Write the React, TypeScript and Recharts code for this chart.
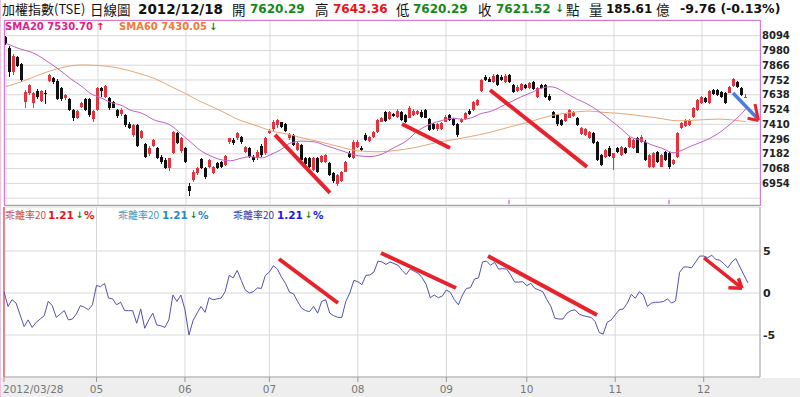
import React from "react";
import { ComposedChart, Bar, Line, XAxis, YAxis, CartesianGrid, ReferenceLine } from "recharts";

// one candle = [open, high, low, close]
type Candle = [number, number, number, number];

const marCandles: Candle[] = [
  [8080, 8094, 8025, 8040], [8002, 8017, 7778, 7817], [7812, 7950, 7791, 7940],
];
const aprCandles: Candle[] = [
  [7933, 7940, 7855, 7863], [7873, 7880, 7734, 7752], [7585, 7675, 7539, 7662], [7650, 7720, 7637, 7714],
  [7572, 7662, 7534, 7650], [7668, 7683, 7606, 7624], [7590, 7678, 7585, 7668], [7650, 7675, 7565, 7642],
  [7745, 7800, 7740, 7791], [7765, 7778, 7720, 7734], [7745, 7758, 7595, 7606], [7693, 7700, 7590, 7606],
  [7611, 7642, 7598, 7637], [7606, 7615, 7513, 7521], [7521, 7530, 7436, 7457], [7462, 7521, 7452, 7513],
  [7547, 7585, 7534, 7572], [7603, 7611, 7513, 7521], [7603, 7611, 7470, 7482], [7452, 7521, 7431, 7513],
];
const mayCandles: Candle[] = [
  [7521, 7700, 7513, 7688], [7693, 7700, 7624, 7668], [7624, 7714, 7616, 7709], [7616, 7624, 7521, 7539],
  [7580, 7590, 7534, 7539], [7521, 7530, 7457, 7477], [7487, 7534, 7477, 7521], [7482, 7492, 7392, 7405],
  [7410, 7425, 7374, 7379], [7328, 7413, 7315, 7405], [7405, 7415, 7238, 7246], [7307, 7369, 7297, 7359],
  [7256, 7264, 7153, 7161], [7179, 7245, 7168, 7230], [7246, 7297, 7238, 7289], [7225, 7235, 7143, 7153],
  [7161, 7174, 7102, 7117], [7135, 7148, 7066, 7076], [7076, 7153, 7050, 7148], [7186, 7359, 7179, 7354],
  [7341, 7348, 7256, 7264], [7204, 7315, 7186, 7307],
];
const junCandles: Candle[] = [
  [7225, 7238, 7110, 7117], [6937, 6955, 6860, 6896], [6980, 7055, 6968, 7045], [7032, 7084, 7019, 7076],
  [7143, 7153, 7066, 7076], [7076, 7084, 6988, 7006], [7084, 7143, 7076, 7135], [7032, 7091, 7024, 7084],
  [7109, 7117, 7066, 7076], [7117, 7127, 7071, 7084], [7096, 7174, 7091, 7168], [7271, 7307, 7261, 7302],
  [7289, 7302, 7251, 7264], [7302, 7348, 7289, 7341], [7315, 7323, 7261, 7271], [7199, 7246, 7187, 7238],
  [7230, 7238, 7153, 7161], [7161, 7174, 7122, 7135], [7148, 7209, 7135, 7199], [7246, 7256, 7161, 7174],
  [7186, 7312, 7174, 7302],
];
const julCandles: Candle[] = [
  [7341, 7374, 7333, 7359], [7374, 7444, 7359, 7431], [7405, 7452, 7379, 7444], [7426, 7431, 7379, 7392],
  [7410, 7418, 7348, 7359], [7302, 7341, 7289, 7333], [7328, 7335, 7240, 7251], [7212, 7276, 7200, 7269],
  [7251, 7261, 7125, 7135], [7153, 7160, 7095, 7102], [7148, 7155, 7076, 7084], [7058, 7155, 7050, 7148],
  [7148, 7156, 7037, 7045], [7117, 7176, 7110, 7168], [7122, 7180, 7115, 7174], [7109, 7117, 7010, 7019],
  [7032, 7040, 6960, 6973], [6947, 7025, 6935, 7019], [6973, 7050, 6965, 7045], [7045, 7130, 7040, 7122],
  [7186, 7200, 7150, 7161], [7148, 7290, 7140, 7276],
];
const augCandles: Candle[] = [
  [7238, 7290, 7225, 7276], [7230, 7245, 7204, 7215], [7328, 7340, 7280, 7289], [7282, 7322, 7275, 7315],
  [7315, 7362, 7307, 7354], [7354, 7452, 7346, 7444], [7431, 7470, 7425, 7457], [7503, 7512, 7428, 7436],
  [7452, 7515, 7444, 7503], [7487, 7497, 7465, 7477], [7470, 7525, 7462, 7513], [7508, 7515, 7436, 7444],
  [7482, 7490, 7420, 7431], [7462, 7550, 7455, 7539], [7482, 7525, 7475, 7513], [7487, 7520, 7480, 7513],
  [7508, 7518, 7460, 7470], [7521, 7530, 7455, 7462], [7449, 7455, 7358, 7366], [7413, 7420, 7366, 7374],
  [7374, 7418, 7362, 7410], [7374, 7426, 7366, 7418],
];
const sepCandles: Candle[] = [
  [7431, 7478, 7425, 7470], [7482, 7490, 7436, 7444], [7449, 7457, 7395, 7405], [7410, 7420, 7315, 7328],
  [7426, 7460, 7418, 7449], [7449, 7503, 7440, 7495], [7513, 7525, 7480, 7487], [7521, 7590, 7513, 7580],
  [7559, 7606, 7550, 7598], [7668, 7760, 7660, 7752], [7778, 7790, 7745, 7752], [7760, 7775, 7735, 7740],
  [7735, 7795, 7728, 7786], [7791, 7800, 7706, 7714], [7778, 7790, 7745, 7752], [7735, 7795, 7728, 7786],
  [7791, 7800, 7728, 7734], [7714, 7722, 7655, 7662], [7668, 7710, 7660, 7701], [7675, 7728, 7668, 7719],
];
const octCandles: Candle[] = [
  [7714, 7722, 7680, 7688], [7688, 7735, 7680, 7727], [7734, 7742, 7675, 7683], [7624, 7700, 7615, 7693],
  [7714, 7722, 7680, 7688], [7714, 7722, 7616, 7624], [7632, 7640, 7590, 7598], [7508, 7515, 7455, 7462],
  [7482, 7490, 7400, 7410], [7444, 7452, 7395, 7405], [7436, 7495, 7428, 7487], [7462, 7530, 7455, 7521],
  [7477, 7510, 7470, 7503], [7457, 7465, 7398, 7405], [7333, 7392, 7325, 7384], [7328, 7380, 7320, 7374],
  [7302, 7362, 7295, 7354], [7341, 7350, 7256, 7264], [7271, 7280, 7125, 7135], [7174, 7180, 7088, 7096],
  [7161, 7220, 7150, 7212], [7230, 7240, 7160, 7168],
];
const novCandles: Candle[] = [
  [7148, 7192, 7058, 7186], [7225, 7235, 7190, 7199], [7174, 7245, 7165, 7238], [7225, 7232, 7178, 7186],
  [7238, 7310, 7230, 7302], [7225, 7297, 7218, 7289], [7302, 7312, 7185, 7192], [7276, 7330, 7268, 7315],
  [7276, 7285, 7128, 7135], [7084, 7180, 7075, 7174], [7084, 7195, 7076, 7186], [7199, 7207, 7114, 7122],
  [7084, 7182, 7078, 7174], [7199, 7207, 7128, 7135], [7186, 7195, 7066, 7084], [7104, 7145, 7096, 7135],
  [7156, 7348, 7148, 7341], [7379, 7425, 7370, 7418], [7397, 7450, 7390, 7444], [7405, 7452, 7398, 7444],
  [7470, 7542, 7462, 7534], [7521, 7606, 7513, 7598],
];
const decCandles: Candle[] = [
  [7572, 7625, 7565, 7619], [7611, 7620, 7578, 7585], [7572, 7676, 7565, 7670], [7675, 7683, 7636, 7644],
  [7675, 7683, 7630, 7637], [7662, 7670, 7611, 7619], [7650, 7656, 7565, 7572], [7655, 7708, 7648, 7701],
  [7706, 7765, 7700, 7758], [7740, 7748, 7692, 7701], [7688, 7695, 7630, 7637], [7620.29, 7643.36, 7620.29, 7621.52],
];

// 乖離率20, one value per trading day
const marBias = [0.16, -1.6, -0.8];
const aprBias = [-1.2, -2.6, -4.0, -3.2, -4.1, -3.5, -3.1, -2.7, -1.0, -1.5, -2.9, -2.5, -2.1, -3.2, -3.1, -2.5, -1.5, -1.7, -2.0, -1.4];
const mayBias = [0.9, 0.75, 1.15, -0.6, -0.7, -1.4, -1.1, -2.1, -2.1, -2.1, -3.6, -1.9, -4.2, -3.2, -2.4, -3.8, -3.9, -4.1, -3.2, -0.24, -1.0, -0.24];
const junBias = [-2.0, -5.0, -3.3, -2.4, -1.6, -2.3, -0.56, -0.8, -0.7, -0.6, 0.16, 2.1, 1.8, 2.7, 1.5, 0.36, 0, 0.16, 0.6, 0.55, 2.1];
const julBias = [2.5, 3.25, 2.85, 1.9, 1.15, 0.1, -0.1, -1.0, -1.8, -2.1, -2.2, -1.6, -2.4, -1.0, -0.8, -2.4, -2.7, -2.9, -2.9, -1.0, 0, 1.5];
const augBias = [1.35, 1.0, 2.1, 2.15, 2.5, 3.8, 3.7, 3.4, 3.7, 3.5, 3.3, 2.7, 2.2, 2.85, 2.6, 2.35, 1.8, 1.0, -0.56, -0.24, -0.56, -0.36];
const sepBias = [0.36, 0.08, -0.8, -1.4, -0.24, 0.55, 0.63, 1.65, 1.8, 3.7, 3.8, 3.3, 3.65, 2.85, 2.9, 2.85, 2.15, 1.3, 1.3, 1.35];
const octBias = [0.87, 1.15, 0.55, 0.36, 0.16, -0.8, -1.6, -3.0, -3.1, -3.1, -2.4, -2.1, -2.0, -2.5, -2.7, -2.8, -2.9, -3.4, -4.7, -4.9, -3.5, -3.2];
const novBias = [-2.6, -2.0, -1.9, -1.2, -0.16, -0.63, 0.16, -0.24, -1.6, -1.2, -1.1, -1.1, -1.0, -0.7, -1.2, -0.95, 2.45, 3.1, 3.1, 3.0, 3.7, 4.4];
const decBias = [4.4, 4.2, 4.5, 4.0, 3.9, 3.5, 3.0, 3.7, 4.1, 3.1, 2.15, 1.21];

const monthCandles = [marCandles, aprCandles, mayCandles, junCandles, julCandles, augCandles, sepCandles, octCandles, novCandles, decCandles];
const monthBias = [marBias, aprBias, mayBias, junBias, julBias, augBias, sepBias, octBias, novBias, decBias];
// "" = month start without a label (April sits too close to the first date)
const monthLabels = ["2012/03/28", "", "05", "06", "07", "08", "09", "10", "11", "12"];

// moving averages: [day index, value]
const sma20Points: [number, number][] = [
  [0, 8035], [3, 7997], [7, 7958], [11, 7881], [14, 7815], [16, 7765], [19, 7701], [21, 7650], [24, 7611],
  [26, 7580], [29, 7555], [31, 7521], [34, 7495], [37, 7444], [41, 7405], [44, 7330], [46, 7276], [49, 7200],
  [51, 7168], [54, 7135], [56, 7128], [59, 7150], [61, 7161], [64, 7150], [66, 7174], [69, 7220], [71, 7264],
  [74, 7280], [77, 7275], [80, 7245], [84, 7205], [88, 7168], [91, 7161], [94, 7180], [97, 7230], [100, 7280],
  [103, 7360], [106, 7410], [109, 7440], [112, 7457], [114, 7448], [116, 7457], [119, 7495], [121, 7508],
  [124, 7550], [126, 7580], [129, 7625], [131, 7650], [134, 7690], [136, 7700], [138, 7685], [140, 7650],
  [143, 7600], [145, 7572], [148, 7515], [151, 7444], [154, 7370], [156, 7315], [159, 7285], [161, 7256],
  [164, 7225], [167, 7190], [169, 7210], [171, 7238], [174, 7275], [176, 7302], [179, 7360], [181, 7410],
  [184, 7495], [185, 7530.7],
];
const sma60Points: [number, number][] = [
  [0, 7701], [4, 7740], [9, 7800], [13, 7840], [16, 7860], [19, 7868], [23, 7864], [28, 7845], [33, 7805],
  [37, 7765], [41, 7705], [45, 7645], [48, 7595], [53, 7525], [58, 7448], [63, 7395], [66, 7362], [71, 7330],
  [74, 7305], [78, 7278], [83, 7240], [88, 7205], [93, 7198], [98, 7210], [103, 7235], [108, 7272], [112, 7292],
  [116, 7315], [121, 7348], [126, 7390], [131, 7430], [136, 7475], [141, 7500], [146, 7512], [149, 7503],
  [153, 7495], [158, 7478], [163, 7458], [168, 7437], [173, 7443], [178, 7450], [185, 7430.05],
];

const priceTicks = [6840, 6954, 7068, 7182, 7296, 7410, 7524, 7638, 7752, 7866, 7980, 8094];
const biasTicks = [-5, 0, 5];

// hand-drawn marks, [x1, y1, x2, y2] in day index / axis value
const priceRedMarks = [
  [67.25, 7328, 81, 6880],
  [99, 7412, 111, 7227],
  [121, 7675, 145.25, 7081],
];
const priceBlueMark = [181.75, 7652, 187.75, 7459];
const priceArrowHead = [
  [187.25, 7567, 188.1, 7440],
  [185.4, 7456, 188.1, 7440],
];
const biasRedMarks = [
  [68.25, 4.05, 83, -1.19],
  [93.75, 4.76, 112.5, 0.6],
  [120.5, 4.4, 147.75, -2.62],
  [174.5, 4.17, 184, 0.58],
  [180.6, 0.63, 184, 0.56],
  [183.1, 1.75, 184, 0.56],
];
const eventDays = [125.75, 165.75];

const EMPTY_SLOTS = 3;
const RED = "#e5323d";
const BLACK = "#111111";
const MARK_RED = "#e8222c";
const GREEN = "#16891a";
const NUM_FONT = "'DejaVu Sans', Verdana, sans-serif";
const CJK_FONT = "'Noto Sans CJK TC', sans-serif";

const candles = monthCandles.flat();
const bias = monthBias.flat();
const sma20 = new Map(sma20Points);
const sma60 = new Map(sma60Points);

const monthStarts: number[] = [];
let dayCount = 0;
monthCandles.forEach((m) => {
  monthStarts.push(dayCount);
  dayCount += m.length;
});
const tickIdx = monthStarts.filter((_, k) => monthLabels[k] !== "");
const tickText = new Map(monthStarts.map((s, k) => [s, monthLabels[k]]));

const rows = Array.from({ length: candles.length + EMPTY_SLOTS }, (_, i) => {
  const c = candles[i];
  return {
    i,
    range: c ? [c[2], c[1]] : null,
    o: c ? c[0] : null,
    h: c ? c[1] : null,
    l: c ? c[2] : null,
    c: c ? c[3] : null,
    sma20: sma20.has(i) ? sma20.get(i) : null,
    sma60: sma60.has(i) ? sma60.get(i) : null,
    bias: i < bias.length ? bias[i] : null,
  };
});

function renderCandle(props: any) {
  const { x, y, width, height } = props;
  const p = props.payload || props;
  if (p.o == null || x == null) return <g />;
  const top = Math.min(y, y + height);
  const span = Math.abs(height);
  const k = p.h === p.l ? 0 : span / (p.h - p.l);
  const yOf = (v: number) => top + (p.h - v) * k;
  const cx = Math.floor(x + width / 2);
  const color = p.c >= p.o ? RED : BLACK;
  const bTop = yOf(Math.max(p.o, p.c));
  const bBot = yOf(Math.min(p.o, p.c));
  return (
    <g shapeRendering="crispEdges">
      <rect x={cx} y={top} width={1} height={Math.max(span, 1)} fill={color} />
      <rect x={cx - 1} y={bTop} width={3} height={Math.max(bBot - bTop, 1)} fill={color} />
    </g>
  );
}

function MonthTick(props: any) {
  const { x, y, payload } = props;
  const first = payload.value === 0;
  return (
    <text x={first ? x - 1 : x} y={y} dy="0.71em" textAnchor={first ? "start" : "middle"} fontSize={10.5} fontFamily={NUM_FONT} fill="#777">
      {tickText.get(payload.value) || ""}
    </text>
  );
}

function T({ x, y, c = "#111", s = 12, b = false, cjk = false, children }: any) {
  return (
    <span
      style={{
        position: "absolute",
        left: x,
        top: y,
        color: c,
        fontSize: s,
        fontWeight: b ? 700 : 400,
        fontFamily: cjk ? CJK_FONT : NUM_FONT,
        whiteSpace: "nowrap",
        lineHeight: "16px",
      }}
    >
      {children}
    </span>
  );
}

function segment(m: number[]) {
  return [{ x: m[0], y: m[1] }, { x: m[2], y: m[3] }];
}

export default function App() {
  return (
    <div style={{ position: "absolute", left: 0, top: 0, width: 800, height: 397, background: "#fff", overflow: "hidden" }}>
      <div style={{ position: "absolute", left: 0, top: 378, width: 800, height: 19, background: "#eeeeee" }} />
      <div style={{ position: "absolute", left: 0, top: 0, width: 1, height: 397, background: "#efc3dc" }} />

      {/* title */}
      <T x={2} y={1} s={13} cjk>加權指數(TSE)</T>
      <T x={90} y={1} s={13.5} cjk>日線圖</T>
      <T x={138} y={1} s={13.5} b>2012/12/18</T>
      <T x={232} y={1} s={13.5} cjk>開</T>
      <T x={250} y={1} b c={GREEN}>7620.29</T>
      <T x={315} y={1} s={13.5} cjk>高</T>
      <T x={333} y={1} b c="#e8141c">7643.36</T>
      <T x={396} y={1} s={13.5} cjk>低</T>
      <T x={413} y={1} b c={GREEN}>7620.29</T>
      <T x={478} y={1} s={13.5} cjk>收</T>
      <T x={496} y={1} b c={GREEN}>7621.52</T>
      <T x={555} y={1} s={11} b c={GREEN}>↓</T>
      <T x={566} y={1} s={13.5} cjk>點</T>
      <T x={589} y={1} s={13.5} cjk>量</T>
      <T x={606} y={1} b>185.61</T>
      <T x={656} y={1} s={13.5} cjk>億</T>
      <T x={680} y={1} s={12.5} b>-9.76 (-0.13%)</T>

      {/* price panel */}
      <div style={{ position: "absolute", left: 0, top: 0 }}>
        <ComposedChart width={800} height={210} data={rows} margin={{ top: 20, right: 0, bottom: 5, left: 4 }}>
          <CartesianGrid stroke="#d8d8d8" />
          <XAxis dataKey="i" type="category" ticks={tickIdx} interval={0} hide />
          <XAxis xAxisId="n" dataKey="i" type="number" domain={[-0.5, rows.length - 0.5]} allowDataOverflow hide />
          <YAxis
            orientation="right"
            width={40}
            domain={[6787, 8215]}
            allowDataOverflow
            ticks={priceTicks}
            interval={0}
            tickFormatter={(v: number) => (v === priceTicks[0] ? "" : String(v))}
            tickLine={false}
            axisLine={false}
            tickSize={0}
            tickMargin={2}
            tick={{ fontSize: 10, fontWeight: 700, fill: "#222", fontFamily: NUM_FONT }}
          />
          <Bar dataKey="range" shape={renderCandle} isAnimationActive={false} />
          <Line dataKey="sma60" type="monotone" stroke="#e9a673" strokeWidth={1} dot={false} connectNulls isAnimationActive={false} />
          <Line dataKey="sma20" type="monotone" stroke="#c462c4" strokeWidth={1} dot={false} connectNulls isAnimationActive={false} />
          {eventDays.map((d) => (
            <ReferenceLine key={d} xAxisId="n" segment={[{ x: d, y: 6792 }, { x: d, y: 6828 }]} stroke="#d77fd0" strokeWidth={1.5} ifOverflow="visible" />
          ))}
          {priceRedMarks.map((m, k) => (
            <ReferenceLine key={"r" + k} xAxisId="n" segment={segment(m)} stroke={MARK_RED} strokeWidth={4} ifOverflow="visible" />
          ))}
          <ReferenceLine xAxisId="n" segment={segment(priceBlueMark)} stroke="#4b7de0" strokeWidth={3.5} ifOverflow="visible" />
          {priceArrowHead.map((m, k) => (
            <ReferenceLine key={"h" + k} xAxisId="n" segment={segment(m)} stroke={MARK_RED} strokeWidth={3} ifOverflow="visible" />
          ))}
        </ComposedChart>
      </div>
      <div style={{ position: "absolute", left: 4, top: 20, width: 757, height: 186, border: "1px solid #d57ad5", boxSizing: "border-box", pointerEvents: "none" }} />

      <T x={5} y={19} s={10} b c="#e0208c">SMA20 7530.70</T>
      <T x={96} y={19} s={10} b c="#e8141c">↑</T>
      <T x={119} y={19} s={10} b c="#f07a36">SMA60 7430.05</T>
      <T x={209} y={19} s={10} b c={GREEN}>↓</T>

      {/* bias panel */}
      <div style={{ position: "absolute", left: 0, top: 200 }}>
        <ComposedChart width={800} height={197} data={rows} margin={{ top: 7, right: 0, bottom: 0, left: 4 }}>
          <CartesianGrid stroke="#d8d8d8" />
          <XAxis
            dataKey="i"
            type="category"
            ticks={tickIdx}
            interval={0}
            height={20}
            tick={<MonthTick />}
            tickLine={{ stroke: "#999" }}
            tickSize={5}
            tickMargin={4}
            axisLine={{ stroke: "#aaa" }}
          />
          <XAxis xAxisId="n" dataKey="i" type="number" domain={[-0.5, rows.length - 0.5]} allowDataOverflow hide />
          <YAxis
            orientation="right"
            width={40}
            domain={[-10, 10.24]}
            allowDataOverflow
            ticks={biasTicks}
            interval={0}
            tickLine={false}
            axisLine={{ stroke: "#aaa" }}
            tickSize={0}
            tickMargin={3}
            tick={{ fontSize: 11, fontWeight: 700, fill: "#222", fontFamily: NUM_FONT }}
          />
          <ReferenceLine xAxisId="n" x={-0.5} stroke="#e08585" strokeWidth={2} ifOverflow="visible" />
          <Line dataKey="bias" type="linear" stroke="#5151ad" strokeWidth={1} dot={false} isAnimationActive={false} />
          {biasRedMarks.map((m, k) => (
            <ReferenceLine key={"b" + k} xAxisId="n" segment={segment(m)} stroke={MARK_RED} strokeWidth={k < 3 ? 4 : 3.5} ifOverflow="visible" />
          ))}
        </ComposedChart>
      </div>

      <T x={5} y={207} s={10} c="#c85050" cjk>乖離率20</T>
      <T x={48} y={207} s={10.5} b c="#e8141c">1.21</T>
      <T x={76} y={207} s={9} b c={GREEN}>↓</T>
      <T x={84} y={207} s={10.5} b c="#e8141c">%</T>
      <T x={118} y={207} s={10} c="#4a98b8" cjk>乖離率20</T>
      <T x={162} y={207} s={10.5} b c="#2a88c8">1.21</T>
      <T x={190} y={207} s={9} b c={GREEN}>↓</T>
      <T x={198} y={207} s={10.5} b c="#2a88c8">%</T>
      <T x={233} y={207} s={10} c="#3838a8" cjk>乖離率20</T>
      <T x={277} y={207} s={10.5} b c="#1a1ae0">1.21</T>
      <T x={305} y={207} s={9} b c={GREEN}>↓</T>
      <T x={313} y={207} s={10.5} b c="#1a1ae0">%</T>
    </div>
  );
}
